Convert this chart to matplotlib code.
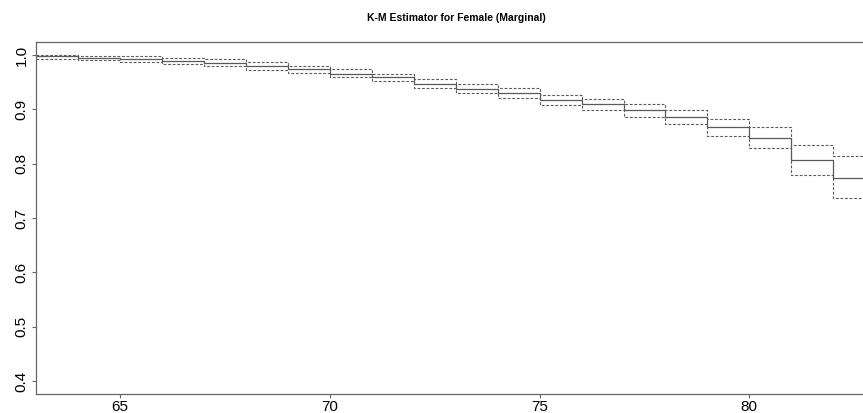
import numpy as np
import matplotlib
matplotlib.use("Agg")
import matplotlib.pyplot as plt

plt.rcParams['font.family'] = ['Liberation Sans', 'DejaVu Sans']

# step start times (age) and K-M estimate with confidence band
times = [63, 64, 65, 66, 67, 68, 69, 70, 71, 72, 73, 74, 75, 76, 77, 78, 79, 80, 81, 82]
surv = [0.9975, 0.995, 0.9926, 0.9894, 0.9858, 0.9803, 0.9734, 0.966, 0.9587, 0.947,
        0.938, 0.9295, 0.9176, 0.9095, 0.899, 0.8857, 0.867, 0.8475, 0.8065, 0.7737]
upper = [1.0, 0.999, 0.998, 0.9945, 0.992, 0.9864, 0.9806, 0.9734, 0.966, 0.955,
         0.9465, 0.9388, 0.927, 0.919, 0.9095, 0.899, 0.883, 0.867, 0.8353, 0.8137]
lower = [0.9926, 0.9909, 0.987, 0.983, 0.980, 0.9729, 0.9668, 0.9594, 0.952, 0.9395,
         0.9295, 0.920, 0.9087, 0.899, 0.8867, 0.873, 0.851, 0.8285, 0.7789, 0.7369]
t_end = 83.5

xt = times + [t_end]
fig = plt.figure(figsize=(8.63, 4.13), dpi=100)
ax = fig.add_axes([36.3/863, 1 - 394/413, (876 - 36.3)/863, (394 - 42)/413])

col = '#5a5a5a'
ax.step(xt, surv + [surv[-1]], where='post', color=col, lw=0.9)
ax.step(xt, upper + [upper[-1]], where='post', color=col, lw=0.8, ls=(0, (2.5, 1.6)))
ax.step(xt, lower + [lower[-1]], where='post', color=col, lw=0.8, ls=(0, (2.5, 1.6)))

ax.set_xlim(63.0, 83.02)
ax.set_ylim(0.376, 1.024)
ax.set_xticks([65, 70, 75, 80])
ax.set_yticks([0.4, 0.5, 0.6, 0.7, 0.8, 0.9, 1.0])
ax.set_yticklabels(['0.4', '0.5', '0.6', '0.7', '0.8', '0.9', '1.0'], rotation=90, va='center')
ax.tick_params(axis='both', labelsize=11, length=3.2, width=0.8, color='#666666')
ax.tick_params(axis='x', pad=1.0)
ax.tick_params(axis='y', pad=2.5)
for s in ax.spines.values():
    s.set_color('#666666')
    s.set_linewidth(0.9)

fig.text(456/863, 1 - 18/413, 'K-M Estimator for Female (Marginal)', ha='center', va='center',
         fontsize=7.5, fontweight='bold')

fig.savefig('out.png', dpi=100)
